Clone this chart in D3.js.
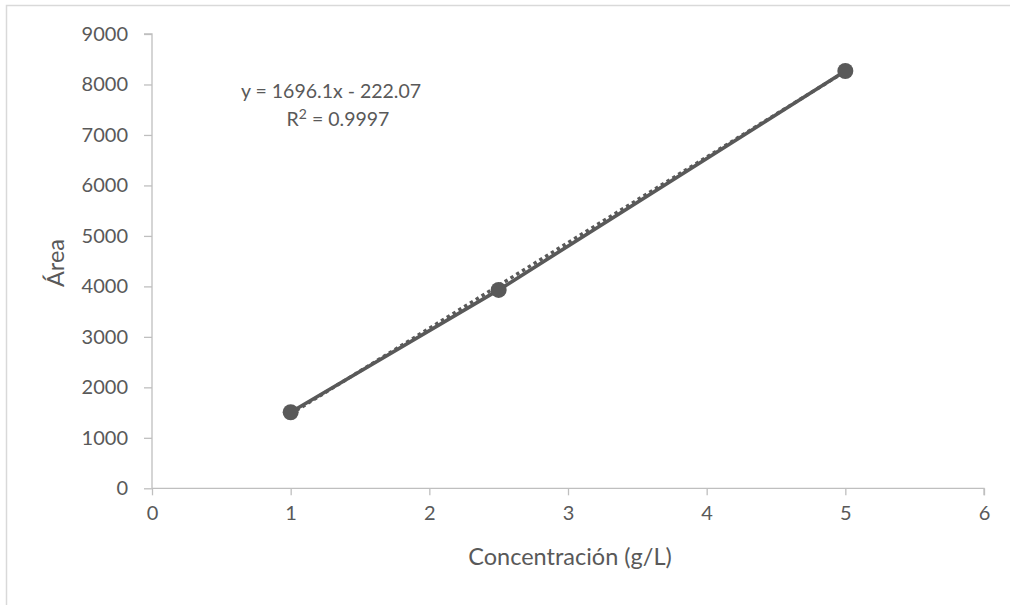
<!DOCTYPE html>
<html>
<head>
<meta charset="utf-8">
<script src="https://cdn.jsdelivr.net/npm/d3@7"></script>
<style>
  html, body { margin: 0; padding: 0; background: #fff; overflow: hidden; }
  svg { display: block; font-family: Lato, "Open Sans", sans-serif; }
</style>
</head>
<body>
<svg id="chart" width="1010" height="605"></svg>
<script>
// Calibration data: concentration (g/L) vs peak area
const concentration = [1, 2.5, 5];
const area = [1506, 3930, 8267];

// Linear trendline reported for the series
const slope = 1696.1;
const intercept = -222.07;
const rSquared = 0.9997;

const xTicks = [0, 1, 2, 3, 4, 5, 6];
const yTicks = [0, 1000, 2000, 3000, 4000, 5000, 6000, 7000, 8000, 9000];

const svg = d3.select("#chart");
const ink = "#595959";
const axisGrey = "#bfbfbf";

// Outer chart frame
svg.append("rect")
  .attr("x", 6.5).attr("y", 5.5)
  .attr("width", 1100).attr("height", 700)
  .attr("fill", "none").attr("stroke", "#d9d9d9").attr("stroke-width", 1.5);

const x = d3.scaleLinear().domain([0, 6]).range([152, 984]);
const y = d3.scaleLinear().domain([0, 9000]).range([488.3, 34]);

// Y axis
const yAxis = svg.append("g")
  .attr("transform", `translate(${x(0)},0)`)
  .call(d3.axisLeft(y).tickValues(yTicks).tickSize(8).tickPadding(16).tickFormat(d3.format("d")));
// X axis
const xAxis = svg.append("g")
  .attr("transform", `translate(0,${y(0)})`)
  .call(d3.axisBottom(x).tickValues(xTicks).tickSize(7).tickPadding(11).tickFormat(d3.format("d")));

[yAxis, xAxis].forEach(g => {
  g.selectAll(".domain").attr("stroke", axisGrey).attr("stroke-width", 1.3);
  g.selectAll(".tick line").attr("stroke", axisGrey).attr("stroke-width", 1.3);
  g.selectAll(".tick text").attr("fill", ink).attr("font-size", 20)
    .attr("font-family", "Lato, 'Open Sans', sans-serif");
});
yAxis.select(".domain").attr("d", `M-8,${y(9000)}H0V${y(0)}`);
xAxis.select(".domain").attr("d", `M${x(0)},0H${x(6)}V7`);

// Axis titles
svg.append("text")
  .attr("transform", `translate(64,263) rotate(-90)`)
  .attr("text-anchor", "middle")
  .attr("fill", ink).attr("font-size", 23.5)
  .text("Área");

svg.append("text")
  .attr("x", 570).attr("y", 565)
  .attr("text-anchor", "middle")
  .attr("fill", ink).attr("font-size", 23.5)
  .text("Concentración (g/L)");

const pts = concentration.map((c, i) => ({ c, a: area[i] }));

// Series line
svg.append("path")
  .datum(pts)
  .attr("fill", "none").attr("stroke", ink).attr("stroke-width", 3.6)
  .attr("stroke-linejoin", "round")
  .attr("d", d3.line().x(d => x(d.c)).y(d => y(d.a)));

// Linear trendline (dotted)
const tMin = d3.min(concentration), tMax = d3.max(concentration);
svg.append("line")
  .attr("x1", x(tMin)).attr("y1", y(slope * tMin + intercept))
  .attr("x2", x(tMax)).attr("y2", y(slope * tMax + intercept))
  .attr("stroke", ink).attr("stroke-width", 3.4)
  .attr("stroke-dasharray", "3.4 3.4");

// Markers
svg.selectAll("circle.pt")
  .data(pts).enter().append("circle")
  .attr("class", "pt")
  .attr("cx", d => x(d.c)).attr("cy", d => y(d.a))
  .attr("r", 8).attr("fill", ink);

// Trendline equation label
const eq = svg.append("text")
  .attr("text-anchor", "middle")
  .attr("fill", ink).attr("font-size", 19.5);
eq.append("tspan").attr("x", 331).attr("y", 98)
  .text(`y = ${slope}x - ${Math.abs(intercept)}`);
const r2 = eq.append("tspan").attr("x", 338).attr("y", 126);
r2.append("tspan").text("R");
r2.append("tspan").attr("dy", -7).attr("font-size", 14).text("2");
r2.append("tspan").attr("dy", 7).text(` = ${rSquared}`);
</script>
</body>
</html>
